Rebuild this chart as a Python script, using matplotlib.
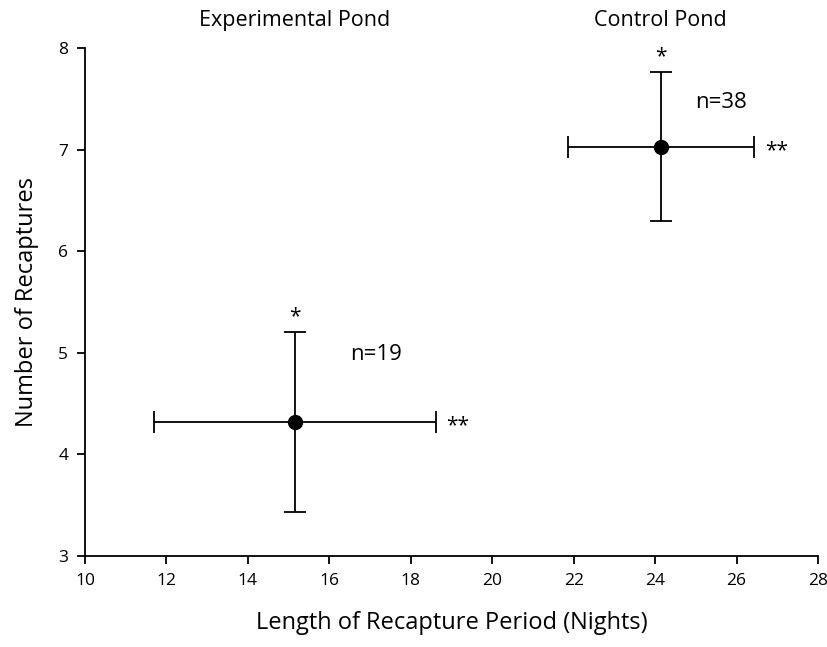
import matplotlib
matplotlib.use("Agg")
import matplotlib.pyplot as plt

# values
ponds = ["Experimental Pond", "Control Pond"]
sample_sizes = [19, 38]
period_mean = [15.15, 24.14]
period_lo = [11.70, 21.87]
period_hi = [18.62, 26.44]
recap_mean = [4.32, 7.03]
recap_lo = [3.43, 6.30]
recap_hi = [5.20, 7.76]

# where the "n=" labels sit, in data units
n_label_xy = [(17.15, 4.98), (25.63, 7.46)]

plt.rcParams["font.family"] = ["Open Sans", "DejaVu Sans"]

fig = plt.figure(figsize=(8.28, 6.47), dpi=100)
ax = fig.add_axes([85 / 828, 1 - 556 / 647, 733 / 828, 508 / 647])

for i in range(len(ponds)):
    xe = [[period_mean[i] - period_lo[i]], [period_hi[i] - period_mean[i]]]
    ye = [[recap_mean[i] - recap_lo[i]], [recap_hi[i] - recap_mean[i]]]
    ax.errorbar(period_mean[i], recap_mean[i], xerr=xe, yerr=ye,
                fmt="o", color="black", markersize=10, elinewidth=1.3,
                capsize=8, capthick=1.3)
    ax.text(period_mean[i], recap_hi[i] + 0.05, "*", ha="center", va="bottom",
            fontsize=15)
    ax.text(period_hi[i] + 0.25, recap_mean[i] - 0.04, "**", ha="left",
            va="center", fontsize=15)
    nx, ny = n_label_xy[i]
    ax.text(nx, ny, f"n={sample_sizes[i]}", ha="center", va="center",
            fontsize=16)
    ax.text(period_mean[i], 8.27, ponds[i], ha="center", va="center",
            fontsize=15.5)

ax.set_xlim(10, 28)
ax.set_ylim(3, 8)
ax.set_xticks(range(10, 29, 2))
ax.set_yticks(range(3, 9))
ax.tick_params(direction="out", length=6, width=1.3, labelsize=12.5, pad=6)
for s in ["top", "right"]:
    ax.spines[s].set_visible(False)
for s in ["left", "bottom"]:
    ax.spines[s].set_linewidth(1.3)

ax.set_xlabel("Length of Recapture Period (Nights)", fontsize=17, labelpad=16)
ax.set_ylabel("Number of Recaptures", fontsize=17, labelpad=14)

fig.savefig("out.png", dpi=100)
